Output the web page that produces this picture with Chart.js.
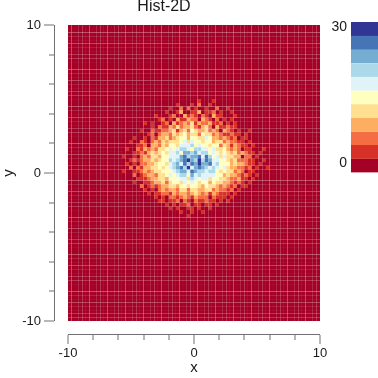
<!DOCTYPE html>
<html><head><meta charset="utf-8">
<style>html,body{margin:0;padding:0;background:#fff;overflow:hidden}canvas{position:absolute}</style>
<script src="https://cdn.jsdelivr.net/npm/chart.js@4"></script></head>
<body><canvas id="c" width="378" height="378" style="left:0;top:0"></canvas><canvas id="b" width="58" height="185" style="left:320px;top:0"></canvas>
<script>
const palette=['#a50026','#d73027','#f46d43','#fdae61','#fee090','#ffffbf','#e0f3f8','#abd9e9','#74add1','#4575b4','#313695'];
const columnCount=70, rowCount=80, firstRow=20, firstColumn=13;
// colour levels (0..a), top row first
const levelRows=[
"00000000000000000000000100010000000000000000",
"00000000000000000100010200100000000000000000",
"00000000000000010020201001002001000000000000",
"00000000000000100130011301120100100000000000",
"00000000000100012003121021031100010000000000",
"00000000000012010311322032102010100000000000",
"00000000101001203123241322311201010000000000",
"00000000001021132423342134203112110000000000",
"00000001002112234134254334232032101001000000",
"00000000012023324345344254423211211010000000",
"00000100102133423455355446533232120110000000",
"00001002102324344456465545534423221101000000",
"00000011203324355466675655455243132110100000",
"00010021323244565677657766564453232011000100",
"00000112134345466758878677565454342321101000",
"00100102324435566689788969756464433022010000",
"00001212334345576789a87a79866554342221100100",
"00010102233455467869798a88967555343321101000",
"00002021334454567897a68987676564332212010010",
"00100112323445556788698776775454423201100000",
"00000201233244565677586766665534332121010000",
"00000011123344355566476566455443223110100000",
"00000100112334245546565455354433212101000000",
"00000002012123344355455435443232120110000000",
"00000000101023233244244334423221201000000000",
"00000000010112213233234323132111010000000000",
"00000000000101022123213222021110100000000000",
"00000000000011011202102112110101000000000000",
"00000000000000101011201101101000000000000000",
"00000000000000010100110100100000000000000000",
"00000000000000000010010010000000000000000000",
"00000000000000000000100000000000000000000000"];
const barEdges=[-2,1,4,7,10,13,16,19,22,25,28,31.1];
const tickMajor=[-10,0,10];

const font=s=>({family:'"Liberation Sans"',size:s});
const ink='#1a1a1a', axisInk='#707070';
const dx=20/columnCount, dy=20/rowCount;
function levelAt(r,c){
  const row=levelRows[r-firstRow]; if(!row) return 0;
  const ch=row[c-firstColumn]; return ch===undefined?0:parseInt(ch,16);
}
const datasets=[];
for(let r=0;r<rowCount;r++){
  const data=[],colors=[];
  const top=10-r*dy;
  for(let c=0;c<columnCount;c++){
    data.push({x:-10+(c+.5)*dx,y:[top-dy,top]});
    colors.push(palette[levelAt(r,c)]);
  }
  datasets.push({data,backgroundColor:colors,borderColor:'rgba(255,255,255,0.6)',borderWidth:.15,borderSkipped:false,grouped:false,barPercentage:1,categoryPercentage:1});
}
const label=v=>tickMajor.includes(v)?String(v):'';
const axisGrid=(dash)=>({display:true,lineWidth:0,drawOnChartArea:false,drawTicks:true,tickLength:10,tickWidth:1,tickColor:axisInk,
  tickBorderDash:c=>tickMajor.includes(c.tick.value)?[]:[5,5],
  tickBorderDashOffset:c=>tickMajor.includes(c.tick.value)?0:dash});
const shiftAxes={id:'shift',afterLayout(ch){
  ch.scales.y.right-=14;
  ch.scales.x.top+=13;
  ch.titleBlock.left+=4;ch.titleBlock.right+=4;
}};
new Chart(document.getElementById('c'),{
  type:'bar',
  data:{datasets},
  plugins:[shiftAxes],
  options:{responsive:false,animation:false,
    layout:{padding:{right:58}},
    plugins:{legend:{display:false},tooltip:{enabled:false},
      title:{display:true,text:'Hist-2D',color:ink,font:{...font(16),weight:'normal',lineHeight:1.2},padding:{top:-2.6,bottom:8.4}}},
    scales:{
      x:{type:'linear',min:-10,max:10,offset:false,
        afterFit(s){s.height=57},
        grid:{...axisGrid(0),offset:false},
        border:{display:true,color:axisInk,width:1},
        ticks:{stepSize:2,autoSkip:false,maxRotation:0,color:ink,font:font(13),padding:2,callback:label},
        title:{display:true,text:'x',color:ink,font:font(15),padding:{top:0,bottom:1}}},
      y:{type:'linear',min:-10,max:10,
        afterFit(s){s.width=68},
        grid:axisGrid(5),
        border:{display:true,color:axisInk,width:1},
        ticks:{stepSize:2,autoSkip:false,color:ink,font:font(13),padding:3,callback:label},
        title:{display:true,text:'y',color:ink,font:font(15),padding:{top:0,bottom:0}}}
    }
  }
});
new Chart(document.getElementById('b'),{
  type:'bar',
  data:{labels:[''],datasets:palette.map((p,i)=>({data:[[barEdges[i],barEdges[i+1]]],backgroundColor:p,borderColor:'rgba(255,255,255,0.6)',borderWidth:.15,borderSkipped:false,grouped:false,barPercentage:1,categoryPercentage:1}))},
  options:{responsive:false,animation:false,
    layout:{padding:{top:22,bottom:3.5}},
    plugins:{legend:{display:false},tooltip:{enabled:false},title:{display:false}},
    scales:{
      x:{display:false},
      y:{min:-2,max:31.1,
        afterFit(s){s.width=31},
        afterBuildTicks(s){s.ticks=[{value:0},{value:30}]},
        grid:{display:false,drawTicks:false},border:{display:false},
        ticks:{color:ink,font:font(14),padding:4,autoSkip:false}}
    }
  }
});
</script>
</body></html>
